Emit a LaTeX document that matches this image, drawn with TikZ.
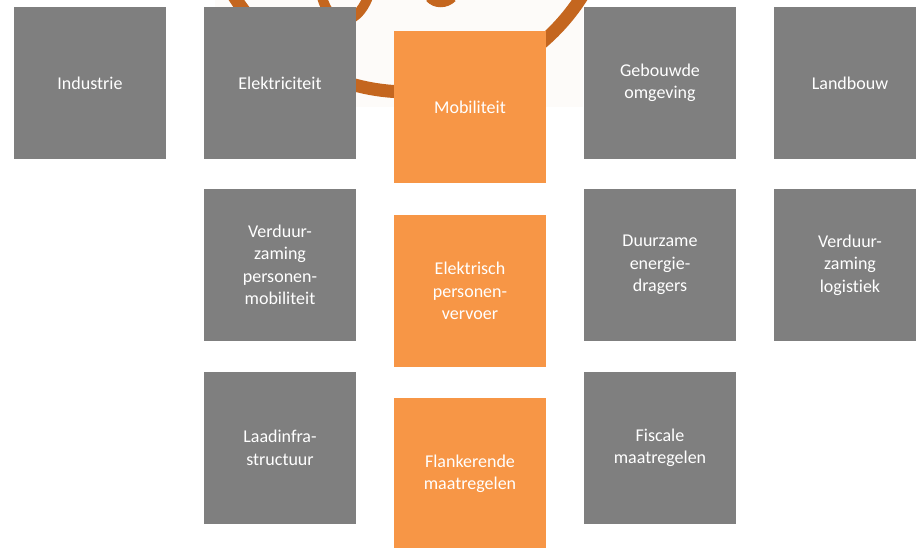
\documentclass[tikz,border=0pt]{standalone}
\usepackage{fontspec}
\setmainfont{Carlito}[Ligatures={NoCommon}]
\definecolor{boxgray}{HTML}{7F7F7F}
\definecolor{boxorange}{HTML}{F79646}
\definecolor{logobrown}{HTML}{C4661F}
\definecolor{logobg}{HTML}{FDFBF9}
\tikzset{
  tile/.style={minimum width=152pt, minimum height=152pt, inner sep=0pt,
    align=center, text=white, font=\fontsize{18}{22.5}\selectfont},
  graybox/.style={tile, fill=boxgray},
  orangebox/.style={tile, fill=boxorange}
}

\begin{document}
\begin{tikzpicture}[x=1pt,y=1pt]
\useasboundingbox (0,0) rectangle (916,548);
\clip (0,0) rectangle (916,548);

% logo behind the tiles
\fill[logobg] (215,441) rectangle (583,548);
\draw[logobrown, line width=13pt] (408,662) circle (206);
\draw[logobrown, line width=10pt] (322,551) .. controls (330,520) and (356,520) .. (368,551);
\draw[logobrown, line width=8pt] (429,550) .. controls (435,543) and (446,543) .. (453,550);

% first row
\node[graybox] (industrie) at (90,465) {Industrie};
\node[graybox] (elektriciteit) at (280,465) {Elektriciteit};
\node[orangebox] (mobiliteit) at (470,441) {Mobiliteit};
\node[graybox] (gebouwd) at (660,465) {Gebouwde\\omgeving};
\node[graybox] (landbouw) at (850,465) {Landbouw};

% second row
\node[graybox] (personen) at (280,283) {Verduur-\\zaming\\personen-\\mobiliteit};
\node[orangebox] (elvervoer) at (470,257) {Elektrisch\\personen-\\vervoer};
\node[graybox] (dragers) at (660,283) {Duurzame\\energie-\\dragers};
\node[graybox] (logistiek) at (850,283) {Verduur-\\zaming\\logistiek};

% third row
\node[graybox] (laadinfra) at (280,100) {Laadinfra-\\structuur};
\node[orangebox] (flankerend) at (470,74) {Flankerende\\maatregelen};
\node[graybox] (fiscaal) at (660,100) {Fiscale\\maatregelen};
\end{tikzpicture}
\end{document}
